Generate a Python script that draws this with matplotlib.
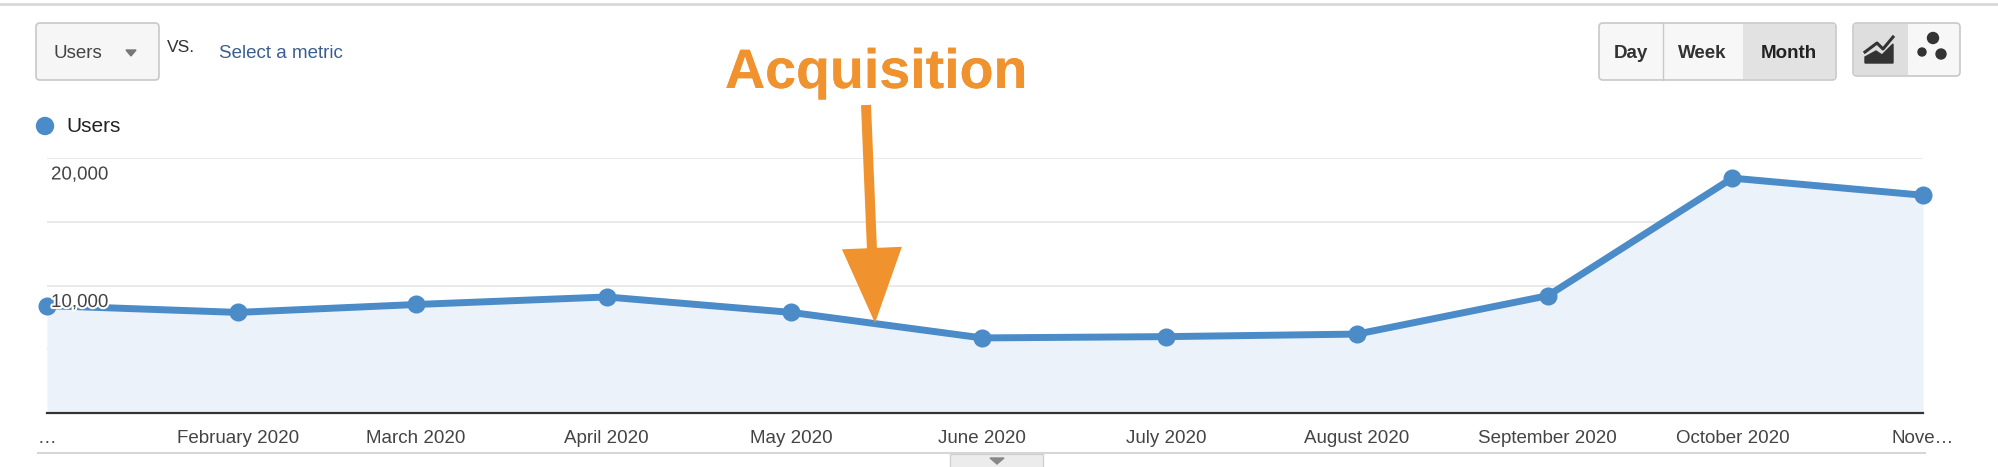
import numpy as np
import pandas as pd
import matplotlib
matplotlib.use('Agg')
import matplotlib.pyplot as plt
import matplotlib.patheffects as pe
from matplotlib.patches import FancyBboxPatch, Rectangle, Polygon, Circle, FancyArrow

plt.rcParams['font.family'] = ['Liberation Sans', 'DejaVu Sans']

# данные графика (месячные пользователи)
months = pd.to_datetime(['2020-01-01', '2020-02-01', '2020-03-01', '2020-04-01',
                         '2020-05-01', '2020-06-01', '2020-07-01', '2020-08-01',
                         '2020-09-01', '2020-10-01', '2020-11-01'])
users = [8420, 7890, 8510, 9100, 7890, 5890, 5990, 6190, 9200, 18420, 17080]
tick_labels = ['…', 'February 2020', 'March 2020', 'April 2020', 'May 2020',
               'June 2020', 'July 2020', 'August 2020', 'September 2020',
               'October 2020', 'Nove…']
y_ticks = [10000, 20000]
y_tick_labels = ['10,000', '20,000']
grid_vals = [5000, 10000, 15000, 20000]

W, H = 1999, 467
fig = plt.figure(figsize=(W / 100, H / 100), dpi=100)
fig.patch.set_facecolor('white')

blue = '#4a8bc8'
fill = '#ebf2fa'
orange = '#f0922e'

# основная ось графика
x0, x1, ytop, ybot = 47, 1923, 158, 413
ax = fig.add_axes([x0 / W, 1 - ybot / H, (x1 - x0) / W, (ybot - ytop) / H])
ax.set_xlim(months[0], months[-1])
ax.set_ylim(0, 20000)
for g in grid_vals:
    ax.axhline(g, color='#e6e6e6', lw=1.2, zorder=1)
ax.fill_between(months, users, 0, color=fill, zorder=2, lw=0)
ax.plot(months, users, color=blue, lw=5, marker='o', markersize=12,
        clip_on=False, zorder=4, solid_joinstyle='round')
for s in ['top', 'right', 'left']:
    ax.spines[s].set_visible(False)
ax.spines['bottom'].set_color('#333333')
ax.spines['bottom'].set_linewidth(1.6)
ax.set_yticks([])
ax.set_xticks(months)
ax.set_xticklabels(tick_labels, fontsize=13.5, color='#444444')
ax.tick_params(axis='x', length=0, pad=12)
ax.get_xticklabels()[0].set_ha('center')
ax.patch.set_alpha(0)

# подписи оси Y (под линиями сетки, как в GA)
for v, lab in zip(y_ticks, y_tick_labels):
    ax.annotate(lab, xy=(0, v), xycoords=('axes fraction', 'data'),
                xytext=(4, -17), textcoords='offset pixels', fontsize=13.5,
                color='#444444', ha='left', va='center', zorder=6,
                path_effects=[pe.withStroke(linewidth=3, foreground='white')])

# оверлей в пикселях для интерфейса
ov = fig.add_axes([0, 0, 1, 1], zorder=5)
ov.set_xlim(0, W)
ov.set_ylim(H, 0)
ov.axis('off')
ov.patch.set_alpha(0)

ov.plot([0, W], [4, 4], color='#d8d8d8', lw=2)
ov.plot([38, 1925], [453, 453], color='#d6d6d6', lw=1.5)
ov.add_patch(Rectangle((950, 454), 93, 14, facecolor='#ececec', edgecolor='#d0d0d0', lw=1))
ov.add_patch(Polygon([[990, 458], [1004, 458], [997, 464]], color='#888888'))

# выпадающий список
ov.add_patch(FancyBboxPatch((36, 23), 123, 57, boxstyle='round,pad=0,rounding_size=4',
                            facecolor='#f6f6f6', edgecolor='#c8c8c8', lw=1.2))
ov.text(54, 53, 'Users', fontsize=13.5, color='#444444', va='center')
ov.add_patch(Polygon([[126, 50], [136, 50], [131, 56]], color='#777777'))
ov.text(167, 48, 'VS.', fontsize=12.5, color='#333333', va='center')
ov.text(219, 53, 'Select a metric', fontsize=13.5, color='#3b5e8f', va='center')

# кнопки Day / Week / Month
ov.add_patch(FancyBboxPatch((1599, 23), 237, 57, boxstyle='round,pad=0,rounding_size=4',
                            facecolor='#f7f7f7', edgecolor='#c8c8c8', lw=1.2))
ov.add_patch(Rectangle((1743, 24), 92, 55, facecolor='#e2e2e2', lw=0))
ov.plot([1663, 1663], [23, 80], color='#c8c8c8', lw=1)
ov.text(1631, 53, 'Day', fontsize=13.5, weight='bold', color='#333333', ha='center', va='center')
ov.text(1702, 53, 'Week', fontsize=13.5, weight='bold', color='#333333', ha='center', va='center')
ov.text(1789, 53, 'Month', fontsize=13.5, weight='bold', color='#222222', ha='center', va='center')

# кнопки типа графика
ov.add_patch(FancyBboxPatch((1853, 23), 107, 53, boxstyle='round,pad=0,rounding_size=4',
                            facecolor='#f7f7f7', edgecolor='#c8c8c8', lw=1.2))
ov.add_patch(Rectangle((1854, 24), 54, 51, facecolor='#dedede', lw=0))
ov.add_patch(Polygon([[1865, 63], [1865, 57], [1876, 51], [1882, 55], [1893, 44], [1893, 63]],
                     color='#333333'))
ov.plot([1865, 1877, 1883, 1893], [52, 43, 49, 37], color='#333333', lw=2.2)
ov.add_patch(Circle((1933, 38), 5.5, color='#333333'))
ov.add_patch(Circle((1922, 52), 4, color='#333333'))
ov.add_patch(Circle((1941, 54), 5, color='#333333'))

# легенда
ov.add_patch(Circle((45, 126), 8.5, color=blue))
ov.text(66, 127, 'Users', fontsize=15, color='#222222', va='center')

# аннотация
ov.add_patch(FancyArrow(866, 105, 9, 218, width=10, head_width=60, head_length=75,
                        length_includes_head=True, color=orange, lw=0))
ov.text(876, 74, 'Acquisition', fontsize=40, weight='bold', color=orange,
        ha='center', va='center',
        path_effects=[pe.withSimplePatchShadow(offset=(1, -3), shadow_rgbFace='#999999', alpha=0.4),
                      pe.withStroke(linewidth=7, foreground='white'), pe.Normal()])

fig.savefig('out.png', dpi=100)
